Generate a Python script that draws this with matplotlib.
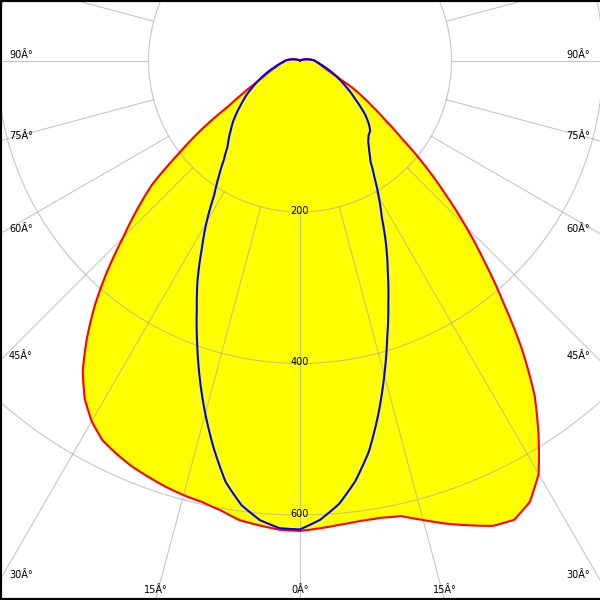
import matplotlib
matplotlib.use("Agg")

import numpy as np
import matplotlib.pyplot as plt
from matplotlib.lines import Line2D

# ── Intensity data (cd), gamma measured from nadir ─────────────────────────────
GAMMA = [0, 2.5, 5, 7.5, 10, 12.5, 15, 17.5, 20, 22.5, 25, 27.5, 30, 32.5, 35,
         37.5, 40, 42.5, 45, 47.5, 50, 52.5, 55, 57.5, 60, 62.5, 65, 67.5, 70,
         75, 80, 85, 90, 95, 100, 105, 110, 115, 180]

# red plane, right half / left half
C0 = [621, 618, 615, 613, 613, 616, 628, 641, 653, 665, 669, 657, 630, 586, 540,
      482, 418, 361, 309, 259, 214, 170, 138, 114, 95, 78, 59, 48, 40,
      31, 26, 22, 19, 14, 9, 5, 2, 0, 0]
C180 = [621, 620, 616, 612, 603, 597, 594, 590, 585, 580, 573, 565, 550, 529, 500,
        462, 421, 376, 330, 292, 255, 202, 158, 111, 87, 69, 57, 49, 43,
        33, 27, 22, 19, 14, 9, 5, 2, 0, 0]

# blue plane, right half / left half
C90 = [619, 607, 588, 560, 524, 478, 430, 383, 341, 303, 269, 234, 208, 183, 162,
       150, 140, 134, 131, 123, 113, 101, 89, 80, 71, 63, 56, 50, 44,
       34, 27, 22, 19, 14, 9, 5, 2, 0, 0]
C270 = [619, 618, 609, 592, 565, 525, 483, 440, 397, 356, 320, 281, 247, 211, 187,
        165, 149, 139, 129, 120, 110, 100, 91, 83, 74, 66, 59, 52, 46,
        35, 28, 22, 19, 14, 9, 5, 2, 0, 0]

RINGS = [200, 400, 600]
RING_LABELS = ["200", "400", "600"]
SPOKES = list(range(0, 360, 15))
SIDE_LABELS = [90, 75, 60, 45, 30]
BOTTOM_LABELS = [-15, 0, 15]

# ── Layout (pixels in a 600x600 image) ────────────────────────────────────────
W = H = 600
CX, CY = 300, 60.5          # pole position
PX_PER_CD = 151.5 / 200
RMAX = 850
GRID = "#a8a8a8"


def full_curve(right, left):
    g = np.radians(GAMMA)
    theta = np.concatenate([-g[::-1], g[1:]])
    r = np.concatenate([np.array(left)[::-1], np.array(right)[1:]])
    return theta, r


def fig_xy(x, y):
    return x / W, 1 - y / H


def follow_arcs(artist, steps=12):
    # let the polar transform bend segments along theta instead of straight chords
    artist.get_path()._interpolation_steps = steps


fig = plt.figure(figsize=(6, 6), dpi=100)
fig.patch.set_facecolor("white")

size = 2 * RMAX * PX_PER_CD / W
fx, fy = fig_xy(CX, CY)
ax = fig.add_axes([fx - size / 2, fy - size / 2, size, size], projection="polar")
ax.set_theta_zero_location("S")
ax.set_theta_direction(1)
ax.set_ylim(0, RMAX)
ax.grid(False)
ax.set_xticks([])
ax.set_yticks([])
ax.spines["polar"].set_visible(False)
ax.patch.set_facecolor("white")

th_red, r_red = full_curve(C0, C180)
th_blue, r_blue = full_curve(C90, C270)

fill = ax.fill(th_red, r_red, color="#ffff00", lw=0, zorder=1)[0]
follow_arcs(fill)

# grid: rings and spokes starting at the first ring
circ = np.linspace(0, 2 * np.pi, 721)
for r in RINGS:
    ax.plot(circ, np.full_like(circ, r), color=GRID, lw=0.8, alpha=0.65, zorder=2)
for a in SPOKES:
    ax.plot([np.radians(a)] * 2, [RINGS[0], RMAX], color=GRID, lw=0.8,
            alpha=0.65, zorder=2)

red, = ax.plot(th_red, r_red, color="#ff0000", lw=1.5, zorder=4)
blue, = ax.plot(th_blue, r_blue, color="#0000ff", lw=1.5, zorder=5)
follow_arcs(red)
follow_arcs(blue)

for r, lab in zip(RINGS, RING_LABELS):
    ax.text(0, r + 2, lab, ha="center", va="baseline", fontsize=7, zorder=6)

# angle labels along the image border
for a in SIDE_LABELS:
    t = np.radians(a)
    y = CY + CX / np.tan(t)
    fig.text(*fig_xy(9, y - 2), f"{a}Â°", ha="left", va="baseline", fontsize=7)
    fig.text(*fig_xy(W - 10, y - 2), f"{a}Â°", ha="right", va="baseline", fontsize=7)
for a in BOTTOM_LABELS:
    x = CX + (H - CY) * np.tan(np.radians(a))
    fig.text(*fig_xy(x, 593), f"{abs(a)}Â°", ha="center", va="baseline", fontsize=7)

# black frame (top, left, bottom)
for xs, ys in [([0, 1], [1, 1]), ([0, 0], [0, 1]), ([0, 1], [0, 0])]:
    fig.add_artist(Line2D(xs, ys, transform=fig.transFigure, color="black", lw=3))

fig.savefig("out.png", dpi=100)
